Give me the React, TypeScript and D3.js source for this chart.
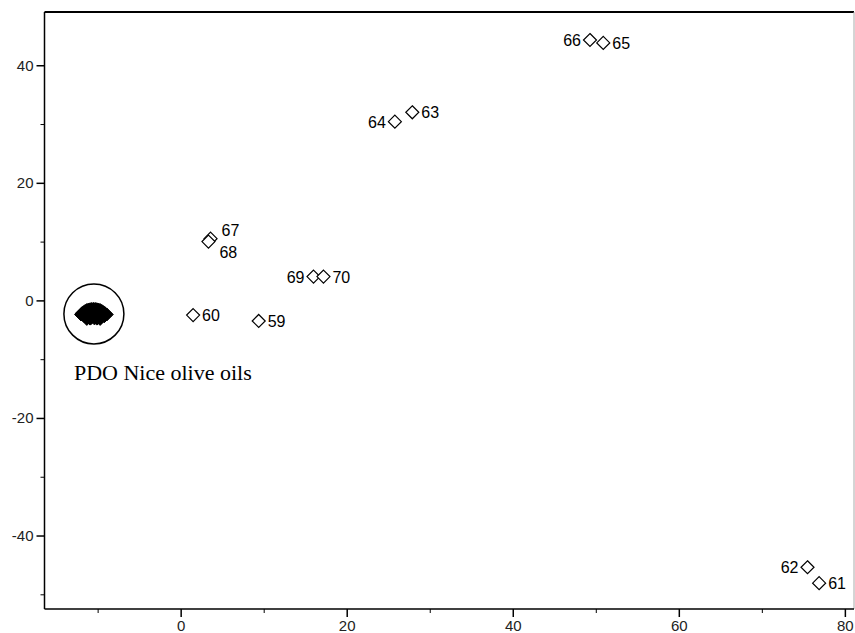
import React, { useEffect, useRef } from "react";
import * as d3 from "d3";

// labelled samples: [x, y]
const sampleIds = ["59", "60", "61", "62", "63", "64", "65", "66", "67", "68", "69", "70"];
const sampleX = [9.4, 1.5, 76.9, 75.5, 27.9, 25.8, 50.9, 49.3, 3.6, 3.35, 16.0, 17.2];
const sampleY = [-3.5, -2.5, -48.1, -45.4, 32.0, 30.4, 43.8, 44.3, 10.5, 10.0, 4.05, 4.05];
// where the label sits relative to the marker
const labelSide = ["right", "right", "right", "left", "right", "left", "right", "left", "upright", "downright", "left", "right"];

// PDO Nice olive oils cluster
const niceX = [
  -12.0, -11.9, -11.7, -11.5, -11.3, -11.1, -10.9, -10.7, -10.5, -10.3, -10.1, -9.9, -9.7, -9.5, -9.3, -9.1, -8.9,
  -11.6, -11.2, -10.8, -10.4, -10.0, -9.6, -9.2,
  -11.3, -10.9, -10.5, -10.1, -9.7,
  -11.0, -10.6, -10.2,
];
const niceY = [
  -2.4, -2.2, -2.0, -1.8, -1.65, -1.55, -1.5, -1.45, -1.45, -1.45, -1.5, -1.55, -1.65, -1.8, -2.0, -2.2, -2.4,
  -2.7, -2.9, -3.0, -3.05, -3.0, -2.9, -2.7,
  -3.15, -3.1, -2.6, -3.1, -3.15,
  -2.3, -2.1, -2.3,
];
const clusterCenter = [-10.45, -2.3];
const clusterLabel = "PDO Nice olive oils";

const xMajor = [0, 20, 40, 60, 80];
const xMinor = [-10, 10, 30, 50, 70];
const yMajor = [-40, -20, 0, 20, 40];
const yMinor = [-50, -30, -10, 10, 30];

const W = 855;
const H = 633;
const left = 44.5;
const right = 854;
const top = 12;
const bottom = 609;

export default function App() {
  const ref = useRef<SVGSVGElement>(null);

  useEffect(() => {
    document.body.style.margin = "0";
    const svg = d3.select(ref.current);
    svg.selectAll("*").remove();

    const x = d3.scaleLinear().domain([-16.4, 81.1]).range([left, right]);
    const y = d3.scaleLinear().domain([49.06, -52.5]).range([top, bottom]);

    const diamond = (cx: number, cy: number) => {
      const r = 6.5;
      return `M${cx},${cy - r}L${cx + r},${cy}L${cx},${cy + r}L${cx - r},${cy}Z`;
    };

    // frame
    svg.append("line").attr("x1", left).attr("x2", right).attr("y1", top).attr("y2", top)
      .attr("stroke", "#000").attr("stroke-width", 2);
    svg.append("line").attr("x1", right).attr("x2", right).attr("y1", top).attr("y2", bottom)
      .attr("stroke", "#aaa").attr("stroke-width", 1);

    const fmt = (d: any) => String(d); // plain hyphen minus like the original

    // y axis
    const yAxis = d3.axisLeft(y).tickValues(yMajor).tickSize(8).tickPadding(3).tickFormat(fmt);
    const gy = svg.append("g").attr("transform", `translate(${left},0)`).call(yAxis);
    gy.select(".domain").attr("d", `M0,${top}V${bottom}`).attr("stroke-width", 1.5);
    gy.selectAll(".tick line").attr("stroke-width", 1.5);
    gy.selectAll("text").attr("font-family", "Liberation Sans, Arial, sans-serif").attr("font-size", 15).attr("fill", "#222");
    svg.append("g").attr("transform", `translate(${left},0)`)
      .call(d3.axisLeft(y).tickValues(yMinor).tickSize(4).tickFormat(() => ""))
      .call((g) => g.select(".domain").remove());

    // x axis
    const xAxis = d3.axisBottom(x).tickValues(xMajor).tickSize(8).tickPadding(3).tickFormat(fmt);
    const gx = svg.append("g").attr("transform", `translate(0,${bottom})`).call(xAxis);
    gx.select(".domain").attr("d", `M${left},0H${right}`).attr("stroke-width", 1.5);
    gx.selectAll(".tick line").attr("stroke-width", 1.5);
    gx.selectAll("text").attr("font-family", "Liberation Sans, Arial, sans-serif").attr("font-size", 15).attr("fill", "#222");
    svg.append("g").attr("transform", `translate(0,${bottom})`)
      .call(d3.axisBottom(x).tickValues(xMinor).tickSize(4).tickFormat(() => ""))
      .call((g) => g.select(".domain").remove());

    // cluster of Nice oils
    svg.append("g").selectAll("path").data(niceX).join("path")
      .attr("d", (d, i) => diamond(x(d), y(niceY[i])))
      .attr("fill", "#000").attr("stroke", "#000").attr("stroke-width", 1);
    svg.append("circle")
      .attr("cx", x(clusterCenter[0])).attr("cy", y(clusterCenter[1])).attr("r", 30)
      .attr("fill", "none").attr("stroke", "#000").attr("stroke-width", 1.5);
    svg.append("text")
      .attr("x", x(clusterCenter[0]) - 20).attr("y", 380)
      .attr("font-family", "Liberation Serif, Times New Roman, serif").attr("font-size", 22)
      .text(clusterLabel);

    // labelled samples
    const pts = svg.append("g");
    sampleIds.forEach((id, i) => {
      const cx = x(sampleX[i]);
      const cy = y(sampleY[i]);
      pts.append("path").attr("d", diamond(cx, cy))
        .attr("fill", "#fff").attr("stroke", "#000").attr("stroke-width", 1.2);
      const side = labelSide[i];
      let tx = cx + 9, ty = cy + 6, anchor = "start";
      if (side === "left") { tx = cx - 9; anchor = "end"; }
      if (side === "upright") { tx = cx + 11; ty = cy - 3; }
      if (side === "downright") { tx = cx + 11; ty = cy + 16; }
      pts.append("text").attr("x", tx).attr("y", ty).attr("text-anchor", anchor)
        .attr("font-family", "Liberation Sans, Arial, sans-serif").attr("font-size", 16)
        .attr("fill", "#000").text(id);
    });
  }, []);

  return <svg ref={ref} width={W} height={H} style={{ display: "block" }} />;
}
